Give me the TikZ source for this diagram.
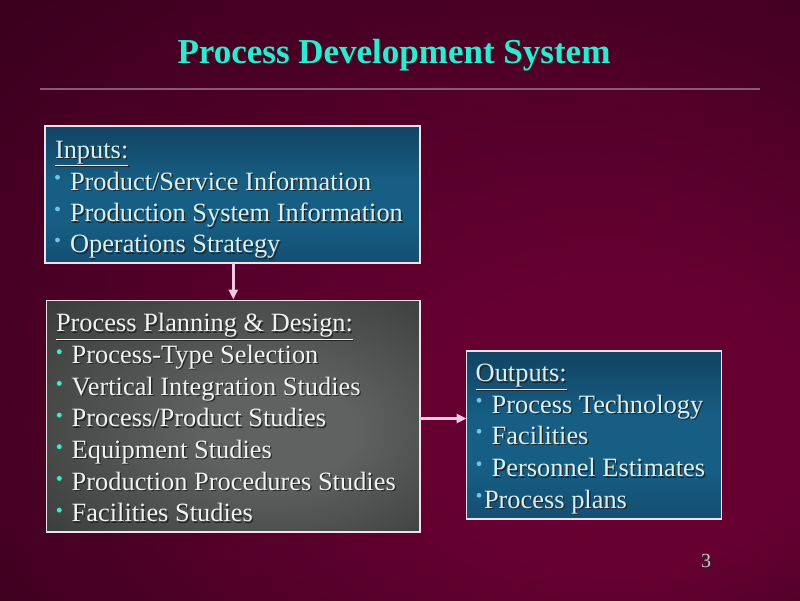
\documentclass[tikz,border=0pt]{standalone}
\usepackage{fontspec}
\setmainfont{Liberation Serif}
\usetikzlibrary{arrows.meta}
\definecolor{titlecol}{HTML}{2EEAD0}
\definecolor{rulecol}{HTML}{8A5878}
\definecolor{bluetext}{HTML}{D6F2F8}
\definecolor{graytext}{HTML}{F2F2F2}
\definecolor{bluebullet}{HTML}{6CC8E8}
\definecolor{tealbullet}{HTML}{40E8C8}
\definecolor{boxline}{HTML}{F0E0EC}
\definecolor{arrowcol}{HTML}{F2C8E4}
\definecolor{pagecol}{HTML}{D8C0CC}
\definecolor{bgin}{HTML}{660031}
\definecolor{bgout}{HTML}{2A0017}
\definecolor{btop}{HTML}{0B2238}
\definecolor{bmid}{HTML}{175E84}
\definecolor{bbot}{HTML}{0D3654}
\definecolor{gin}{HTML}{606262}
\definecolor{gout}{HTML}{2A2A2A}
\pgfdeclareradialshading{bgshade}{\pgfpoint{18bp}{-14bp}}{color(0bp)=(bgin); color(12bp)=(bgin); color(50bp)=(bgout)}
\pgfdeclareverticalshading{blueshade}{100bp}{color(0bp)=(bbot); color(40bp)=(bmid); color(55bp)=(bmid); color(100bp)=(btop)}
\pgfdeclareradialshading{grayshade}{\pgfpoint{8bp}{-4bp}}{color(0bp)=(gin); color(10bp)=(gin); color(50bp)=(gout)}
\newcommand\shd[1]{\rlap{\hspace{1.3pt}\raisebox{-1.3pt}{\color{black!85}#1}}#1}
\begin{document}
\begin{tikzpicture}[x=1pt,y=-1pt,
  txt/.style={anchor=base west, inner sep=0pt, outer sep=0pt, font=\fontsize{26.4}{32}\selectfont},
  bluetxt/.style={txt, text=bluetext},
  graytxt/.style={txt, text=graytext},
  panel/.style={draw=boxline, line width=1.2pt, inner sep=0pt, outer sep=0pt},
  bluepanel/.style={panel, shading=blueshade},
  graypanel/.style={panel, shading=grayshade},
  conn/.style={draw=arrowcol, line width=2.5pt, -{Triangle[length=10pt,width=9pt]}}]
\useasboundingbox (0,0) rectangle (800,600);
\shade[shading=bgshade] (0,0) rectangle (800,600);
% title and rule
\node[anchor=base, inner sep=0pt, text=titlecol, font=\fontsize{35}{40}\selectfont\bfseries] (title) at (394,63) {\shd{Process Development System}};
\coordinate (r1) at (40,89);
\coordinate (r2) at (760,89);
\draw[rulecol, line width=2pt] (r1) -- (r2);
% panels
\node[bluepanel, minimum width=375pt, minimum height=137pt] (inputs) at (232.5,194.5) {};
\node[graypanel, minimum width=373.5pt, minimum height=231.5pt] (process) at (233.25,416.25) {};
\node[bluepanel, minimum width=255pt, minimum height=168pt] (outputs) at (594,435) {};
% inputs text
\node[bluetxt] (inh) at (55,158) {\shd{\underline{Inputs:}}};
\node[bluetxt] (in1) at (70,190) {\shd{Product/Service Information}};
\node[bluetxt] (in2) at (70,221.7) {\shd{Production System Information}};
\node[bluetxt] (in3) at (70,252.7) {\shd{Operations Strategy}};
\foreach \y in {190,221.7,252.7} \fill[bluebullet] (57.5,\y-12.7) circle (2.4);
% process text
\node[graytxt] (prh) at (56,331.7) {\shd{\underline{Process Planning \& Design:}}};
\node[graytxt] (pr1) at (71.7,363.3) {\shd{Process-Type Selection}};
\node[graytxt] (pr2) at (71.7,395) {\shd{Vertical Integration Studies}};
\node[graytxt] (pr3) at (71.7,426.7) {\shd{Process/Product Studies}};
\node[graytxt] (pr4) at (71.7,458.3) {\shd{Equipment Studies}};
\node[graytxt] (pr5) at (71.7,490) {\shd{Production Procedures Studies}};
\node[graytxt] (pr6) at (71.7,521.7) {\shd{Facilities Studies}};
\foreach \y in {363.3,395,426.7,458.3,490,521.7} \fill[tealbullet] (59.3,\y-11.6) circle (2.5);
% outputs text
\node[bluetxt] (ouh) at (475.7,381.7) {\shd{\underline{Outputs:}}};
\node[bluetxt] (ou1) at (491.7,413.3) {\shd{Process Technology}};
\node[bluetxt] (ou2) at (491.7,444.3) {\shd{Facilities}};
\node[bluetxt] (ou3) at (491.7,476.7) {\shd{Personnel Estimates}};
\node[bluetxt] (ou4) at (484,508.3) {\shd{Process plans}};
\foreach \y in {413.3,444.3,476.7,508.3} \fill[bluebullet] (479,\y-13) circle (2.4);
% connectors
\coordinate (h1) at (process.east |- 0,418.5);
\coordinate (h2) at (outputs.west |- 0,418.5);
\coordinate (v1) at (233.3,263);
\coordinate (v2) at (233.3,299.5);
\draw[conn] (v1) -- (v2);
\draw[conn] (h1) -- (h2);
% page number
\node[anchor=base, inner sep=0pt, text=pagecol, font=\fontsize{20}{24}\selectfont] (page) at (706,567.7) {\shd{3}};
\end{tikzpicture}
\end{document}
